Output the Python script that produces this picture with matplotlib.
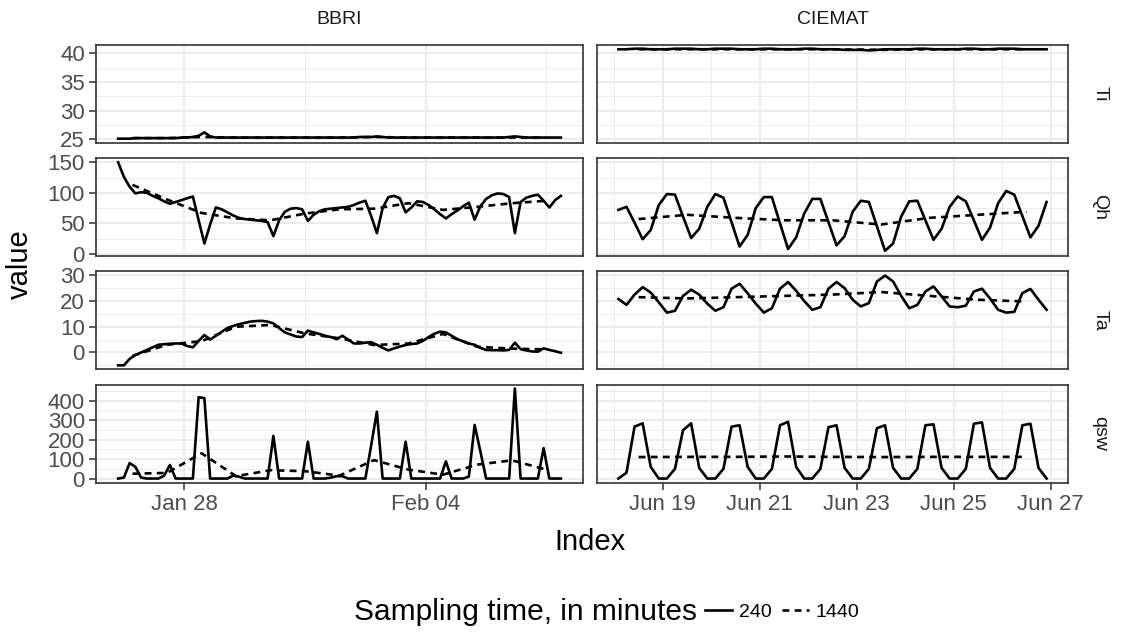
import matplotlib
matplotlib.use("Agg")
import matplotlib.pyplot as plt
import matplotlib.dates as mdates
from matplotlib.lines import Line2D
import pandas as pd

plt.rcParams['font.family'] = ['Liberation Sans', 'DejaVu Sans']

# ---- data ----
bbri_t240 = pd.date_range('2016-01-26 02:00', periods=78, freq='4h')
bbri_t1440 = pd.date_range('2016-01-26 12:00', periods=13, freq='1D')
ciemat_t240 = pd.date_range('2016-06-18 02:00', periods=54, freq='4h')
ciemat_t1440 = pd.date_range('2016-06-18 12:00', periods=9, freq='1D')

bbri_ti_240 = [25.1, 25.1, 25.1, 25.2, 25.2, 25.2, 25.2, 25.2, 25.2, 25.2,
               25.2, 25.3, 25.3, 25.4, 25.6, 26.2, 25.5, 25.3, 25.3, 25.3,
               25.3, 25.3, 25.3, 25.3, 25.3, 25.3, 25.3, 25.3, 25.3, 25.3,
               25.3, 25.3, 25.3, 25.3, 25.3, 25.3, 25.3, 25.3, 25.3, 25.3,
               25.3, 25.3, 25.4, 25.4, 25.4, 25.5, 25.4, 25.3, 25.3, 25.3,
               25.3, 25.3, 25.3, 25.3, 25.3, 25.3, 25.3, 25.3, 25.3, 25.3,
               25.3, 25.3, 25.3, 25.3, 25.3, 25.3, 25.3, 25.3, 25.4, 25.5,
               25.4, 25.3, 25.3, 25.3, 25.3, 25.3, 25.3, 25.3]
bbri_ti_1440 = [25.2, 25.2, 25.4, 25.3, 25.3, 25.3, 25.3, 25.4, 25.3, 25.3,
                25.3, 25.3, 25.3]

bbri_qh_240 = [150, 126, 110, 99, 101, 100, 95, 91, 86, 82,
               85, 88, 91, 94, 55, 17, 48, 76, 73, 68,
               63, 59, 57, 56, 55, 54, 52, 29, 55, 69,
               74, 75, 73, 54, 64, 70, 73, 74, 75, 76,
               77, 80, 84, 87, 62, 34, 75, 93, 95, 91,
               68, 76, 86, 85, 80, 73, 65, 58, 65, 71,
               78, 84, 56, 78, 90, 96, 99, 98, 93, 34,
               85, 92, 95, 97, 87, 76, 88, 95]
bbri_qh_1440 = [113, 89, 67, 58, 55, 66, 73, 74, 83, 72, 77, 83, 87]

bbri_ta_240 = [-5.0, -5.0, -2.5, -1.0, 0.0, 1.0, 2.0, 3.0, 3.2, 3.4,
               3.5, 3.5, 2.5, 2.0, 4.5, 6.8, 5.0, 6.5, 8.0, 9.5,
               10.3, 11.0, 11.5, 12.0, 12.2, 12.3, 12.0, 11.3, 9.5, 7.8,
               7.0, 6.2, 6.0, 8.5, 7.8, 7.2, 6.5, 6.0, 5.2, 6.5,
               5.0, 3.5, 3.5, 3.8, 4.0, 3.0, 1.8, 0.8, 1.6, 2.3,
               2.9, 3.3, 3.5, 4.5, 6.0, 7.3, 8.1, 7.8, 6.5, 5.2,
               4.3, 3.5, 3.0, 1.8, 1.0, 0.9, 0.9, 0.8, 1.0, 3.8,
               1.3, 0.8, 0.4, 0.3, 1.6, 1.0, 0.5, -0.1]
bbri_ta_1440 = [-1.3, 3.0, 4.4, 10.0, 10.7, 7.4, 5.5, 2.9, 3.5, 7.2, 2.2, 1.5, 1.2]

bbri_qsw_240 = [0, 5, 80, 60, 5, 0, 0, 0, 15, 70,
                0, 0, 0, 0, 420, 415, 0, 0, 0, 0,
                15, 10, 0, 0, 0, 0, 0, 220, 0, 0,
                0, 0, 0, 190, 0, 0, 0, 5, 12, 12,
                0, 0, 0, 0, 170, 345, 0, 0, 0, 0,
                190, 0, 0, 0, 0, 0, 0, 89, 0, 0,
                0, 10, 277, 140, 0, 0, 0, 0, 0, 465,
                0, 0, 0, 0, 157, 0, 0, 0]
bbri_qsw_1440 = [25, 29, 131, 12, 43, 38, 15, 95, 46, 20, 72, 94, 46]

ciemat_ti_240 = [40.7, 40.7, 40.8, 40.8, 40.7, 40.7, 40.7, 40.8, 40.8, 40.8,
                 40.7, 40.7, 40.8, 40.8, 40.8, 40.7, 40.7, 40.7, 40.8, 40.8,
                 40.7, 40.7, 40.7, 40.8, 40.8, 40.7, 40.7, 40.7, 40.6, 40.6,
                 40.6, 40.5, 40.6, 40.7, 40.7, 40.7, 40.7, 40.8, 40.8, 40.7,
                 40.7, 40.7, 40.7, 40.8, 40.8, 40.7, 40.7, 40.8, 40.8, 40.8,
                 40.7, 40.7, 40.7, 40.7]
ciemat_ti_1440 = [40.7, 40.7, 40.7, 40.7, 40.7, 40.6, 40.7, 40.7, 40.7]

ciemat_qh_240 = [72, 77, 51, 24, 39, 80, 98, 97, 61, 26,
                 41, 77, 98, 92, 52, 12, 31, 75, 93, 93,
                 50, 8, 27, 66, 90, 90, 52, 14, 29, 69,
                 87, 85, 45, 5, 17, 61, 86, 87, 55, 23,
                 41, 77, 94, 86, 55, 23, 43, 83, 103, 97,
                 62, 27, 46, 85]
ciemat_qh_1440 = [57, 64, 59, 55, 55, 48, 59, 64, 69]

ciemat_ta_240 = [20.8, 18.5, 22.5, 25.4, 23.3, 19.5, 15.5, 16.2, 22.0, 24.4,
                 22.5, 19.0, 16.2, 17.6, 24.8, 26.7, 23.0, 19.0, 15.5, 17.2,
                 24.8, 27.4, 24.0, 20.0, 16.6, 17.6, 24.8, 27.4, 25.0, 20.5,
                 17.9, 19.2, 27.6, 29.9, 27.6, 22.0, 17.2, 18.5, 23.7, 25.7,
                 21.8, 17.9, 17.6, 18.2, 23.7, 24.8, 21.0, 16.6, 15.5, 15.8,
                 23.1, 24.7, 20.5, 16.6]
ciemat_ta_1440 = [21.5, 21.0, 21.5, 22.0, 22.5, 23.5, 22.0, 20.5, 19.8]

ciemat_qsw_240 = [0, 30, 268, 285, 60, 0, 0, 50, 250, 285,
                  55, 0, 0, 50, 268, 275, 60, 0, 0, 50,
                  275, 293, 60, 0, 0, 50, 265, 275, 55, 0,
                  0, 50, 260, 275, 55, 0, 0, 50, 275, 280,
                  55, 0, 0, 50, 283, 290, 55, 0, 0, 50,
                  275, 283, 55, 0]
ciemat_qsw_1440 = [111, 112, 112, 114, 112, 111, 112, 112, 112]

variables = ['Ti', 'Qh', 'Ta', 'qsw']
sites = ['BBRI', 'CIEMAT']

series = {
    ('BBRI', 'Ti'): (bbri_ti_240, bbri_ti_1440),
    ('BBRI', 'Qh'): (bbri_qh_240, bbri_qh_1440),
    ('BBRI', 'Ta'): (bbri_ta_240, bbri_ta_1440),
    ('BBRI', 'qsw'): (bbri_qsw_240, bbri_qsw_1440),
    ('CIEMAT', 'Ti'): (ciemat_ti_240, ciemat_ti_1440),
    ('CIEMAT', 'Qh'): (ciemat_qh_240, ciemat_qh_1440),
    ('CIEMAT', 'Ta'): (ciemat_ta_240, ciemat_ta_1440),
    ('CIEMAT', 'qsw'): (ciemat_qsw_240, ciemat_qsw_1440),
}
times = {'BBRI': (bbri_t240, bbri_t1440), 'CIEMAT': (ciemat_t240, ciemat_t1440)}

y_limits = {'Ti': (24.4, 41.5), 'Qh': (-3, 157.5), 'Ta': (-6.5, 31.6), 'qsw': (-23, 483)}
y_major = {'Ti': [25, 30, 35, 40], 'Qh': [0, 50, 100, 150], 'Ta': [0, 10, 20, 30],
           'qsw': [0, 100, 200, 300, 400]}
y_minor = {'Ti': [27.5, 32.5, 37.5], 'Qh': [25, 75, 125], 'Ta': [-5, 5, 15, 25],
           'qsw': [50, 150, 250, 350, 450]}
x_major = {'BBRI': pd.to_datetime(['2016-01-28', '2016-02-04']),
           'CIEMAT': pd.to_datetime(['2016-06-19', '2016-06-21', '2016-06-23',
                                     '2016-06-25', '2016-06-27'])}
x_minor = {'BBRI': pd.to_datetime(['2016-01-31 12:00', '2016-02-07 12:00']),
           'CIEMAT': pd.to_datetime(['2016-06-18', '2016-06-20', '2016-06-22',
                                     '2016-06-24', '2016-06-26'])}

# ---- layout (pixels of a 1123x632 canvas) ----
W, H = 1123, 632
col_x = {'BBRI': (96, 583), 'CIEMAT': (597, 1068)}
row_y = {'Ti': (44.7, 142.7), 'Qh': (157.7, 255.7), 'Ta': (271.2, 369.2), 'qsw': (385, 483)}

grid_col = '#EBEBEB'
border_col = '#333333'
tick_txt = '#4D4D4D'
LW = 1.9
DASH = (0, (2.6, 2.0))

fig = plt.figure(figsize=(W / 100, H / 100), dpi=100)

for site in sites:
    t240, t1440 = times[site]
    span = t240[-1] - t240[0]
    xmin, xmax = t240[0] - span * 0.05, t240[-1] + span * 0.05
    for var in variables:
        x0, x1 = col_x[site]
        y0, y1 = row_y[var]
        ax = fig.add_axes([x0 / W, 1 - y1 / H, (x1 - x0) / W, (y1 - y0) / H])
        v240, v1440 = series[(site, var)]
        ax.plot(t240, v240, color='black', lw=LW, zorder=3)
        ax.plot(t1440, v1440, color='black', lw=LW, linestyle=DASH, zorder=3)

        ax.set_xlim(xmin, xmax)
        ax.set_ylim(*y_limits[var])
        ax.set_xticks(x_major[site])
        ax.set_xticks(x_minor[site], minor=True)
        ax.set_yticks(y_major[var])
        ax.set_yticks(y_minor[var], minor=True)
        ax.xaxis.set_major_formatter(mdates.DateFormatter('%b %d'))
        ax.grid(which='major', color=grid_col, lw=1.3, zorder=0)
        ax.grid(which='minor', color=grid_col, lw=0.7, zorder=0)
        ax.set_axisbelow(True)
        for s in ax.spines.values():
            s.set_color(border_col)
            s.set_linewidth(1.2)
        ax.tick_params(which='major', length=5, width=1.1, color=border_col,
                       labelcolor=tick_txt, labelsize=16, pad=3)
        ax.tick_params(which='minor', length=0)
        if var != 'qsw':
            ax.tick_params(axis='x', which='both', labelbottom=False, length=0)
        if site != 'BBRI':
            ax.tick_params(axis='y', which='both', labelleft=False, length=0)

# strip labels
for site in sites:
    x0, x1 = col_x[site]
    fig.text((x0 + x1) / 2 / W, 1 - 20 / H, site, ha='center', va='center',
             fontsize=14, color='#1A1A1A')
for var in variables:
    y0, y1 = row_y[var]
    fig.text(1100 / W, 1 - (y0 + y1) / 2 / H, var, ha='center', va='center',
             rotation=-90, fontsize=14, color='#1A1A1A')

# axis titles
fig.text(20 / W, 1 - 264 / H, 'value', rotation=90, ha='center', va='center', fontsize=21)
fig.text(590 / W, 1 - 542 / H, 'Index', ha='center', va='center', fontsize=21)

# legend
fig.text(697 / W, 1 - 612 / H, 'Sampling time, in minutes', ha='right', va='center', fontsize=21.5)
handles = [Line2D([], [], color='black', lw=LW),
           Line2D([], [], color='black', lw=LW, linestyle=DASH)]
fig.legend(handles, ['240', '1440'], ncol=2, loc='center left',
           bbox_to_anchor=(705 / W, 1 - 612 / H), frameon=False, fontsize=14,
           handlelength=1.4, handletextpad=0.35, columnspacing=0.5, borderpad=0,
           borderaxespad=0)

fig.savefig('out.png', dpi=100)
